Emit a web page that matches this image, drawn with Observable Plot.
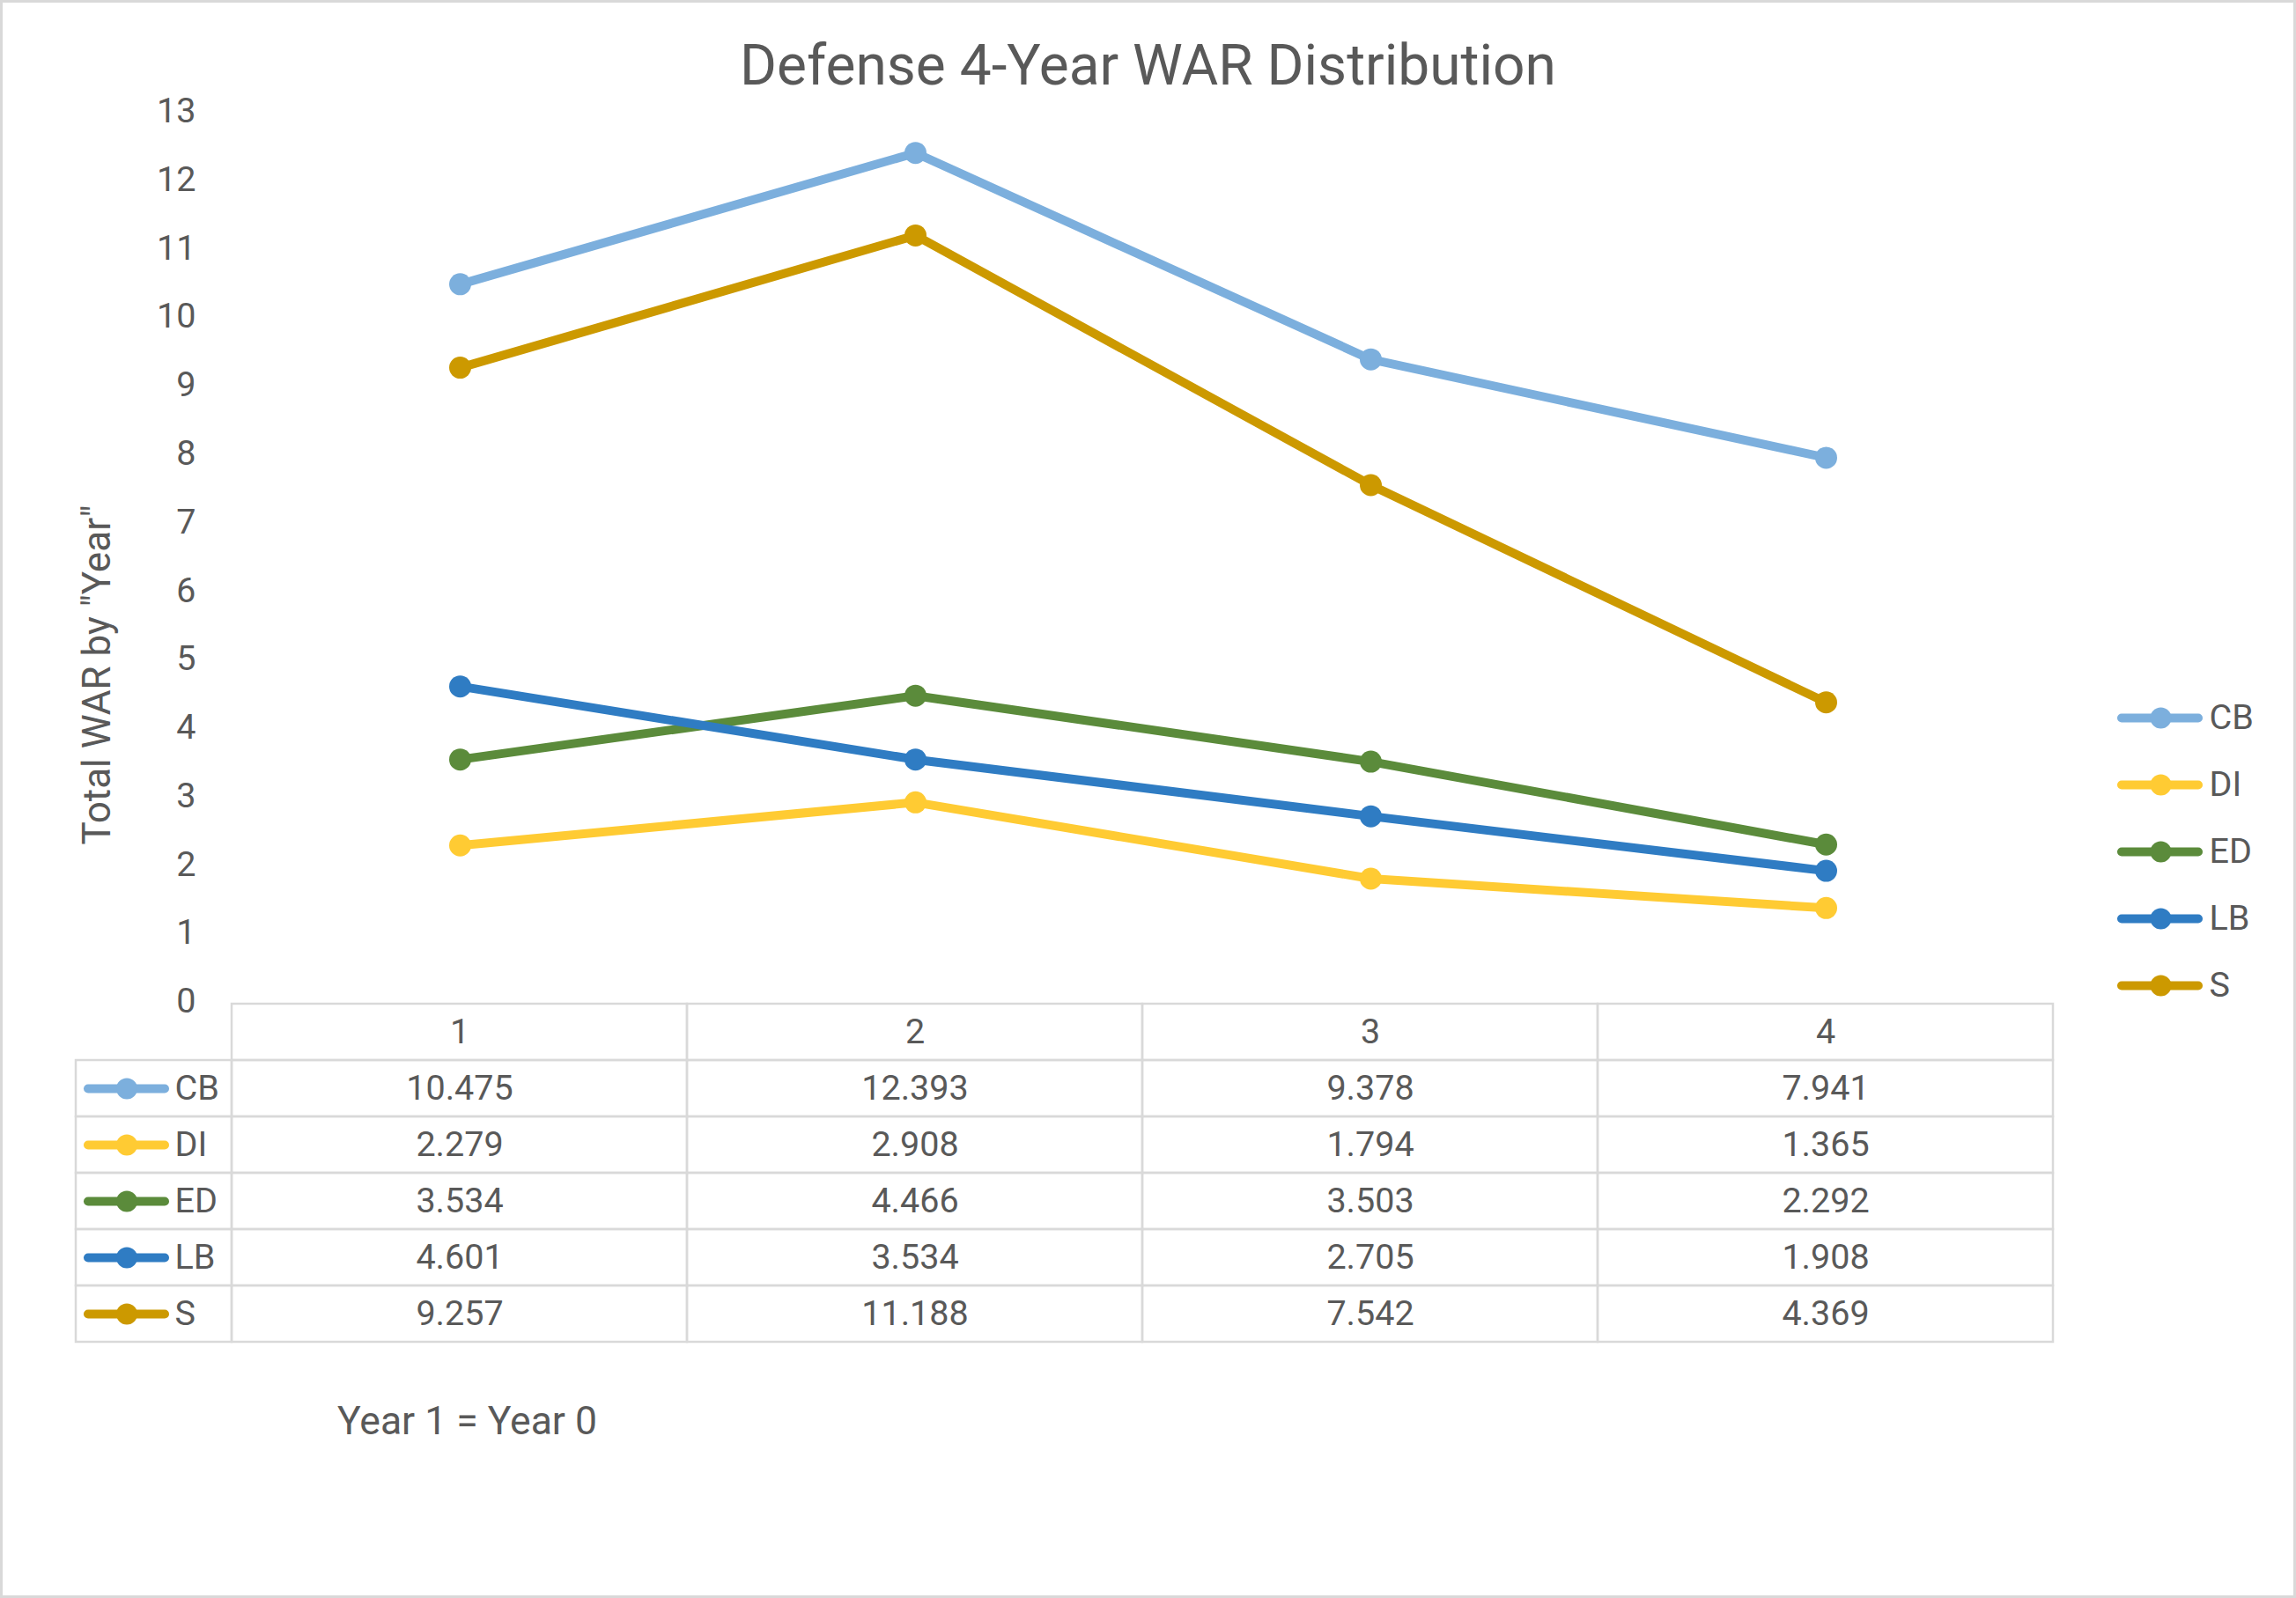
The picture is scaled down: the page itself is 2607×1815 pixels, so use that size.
<!DOCTYPE html>
<html>
<head>
<meta charset="utf-8">
<script src="https://cdn.jsdelivr.net/npm/d3@7"></script>
<script src="https://cdn.jsdelivr.net/npm/@observablehq/plot@0.6"></script>
<style>
  html, body { margin: 0; padding: 0; background: #fff; }
  #frame { position: relative; width: 2607px; height: 1815px; background: #fff; overflow: hidden;
           font-family: Roboto, "Open Sans", sans-serif; color: #595959; }
  #border { position: absolute; left: 0; top: 0; width: 2607px; height: 1815px; box-sizing: border-box;
            border: 3px solid #d9d9d9; pointer-events: none; }
  #title { position: absolute; left: 0; top: 43px; width: 2607px; text-align: center;
           font-size: 64px; line-height: 64px; white-space: nowrap; }
  #note { position: absolute; left: 383px; top: 1592px; font-size: 44.5px; line-height: 44.5px; white-space: nowrap; }
  svg.abs { position: absolute; max-width: none !important; }
</style>
</head>
<body>
<div id="frame">
  <div id="title"></div>
  <div id="note"></div>
  <div id="border"></div>
</div>
<script>
// ---- data ----
const chartTitle = "Defense 4-Year WAR Distribution";
const yAxisTitle = "Total WAR by \"Year\"";
const noteText = "Year 1 = Year 0";
const years = [1, 2, 3, 4];
const positions = ["CB", "DI", "ED", "LB", "S"];
const CB = [10.475, 12.393, 9.378, 7.941];
const DI = [2.279, 2.908, 1.794, 1.365];
const ED = [3.534, 4.466, 3.503, 2.292];
const LB = [4.601, 3.534, 2.705, 1.908];
const S  = [9.257, 11.188, 7.542, 4.369];
const seriesColors = ["#7CAFDD", "#FFCB33", "#5B8B3B", "#2F7CC3", "#CC9900"];
const yTicks = [0, 1, 2, 3, 4, 5, 6, 7, 8, 9, 10, 11, 12, 13];

// ---- derived table ----
const seriesValues = [CB, DI, ED, LB, S];
const rows = positions.flatMap((pos, i) => years.map((year, j) => ({pos, year, war: seriesValues[i][j]})));
const headerKey = "header";
const rowKeys = [headerKey, ...positions];
const colorScale = {domain: positions, range: seriesColors};

const textColor = "#595959";
const gridColor = "#d9d9d9";
const baseStyle = {fontFamily: "Roboto, 'Open Sans', sans-serif", fontSize: "39.5px", color: textColor, background: "transparent", overflow: "visible"};

document.getElementById("title").textContent = chartTitle;
document.getElementById("note").textContent = noteText;
const frame = document.getElementById("frame");

function place(svg, left, top) {
  svg.classList.add("abs");
  svg.style.left = left + "px";
  svg.style.top = top + "px";
  frame.insertBefore(svg, document.getElementById("border"));
}

// ---- main line chart ----
const W = 2607, mL = 263, mR = 276, mainH = 1140, mT = 126, mB = 3;
const main = Plot.plot({
  width: W, height: mainH,
  marginLeft: mL, marginRight: mR, marginTop: mT, marginBottom: mB,
  style: baseStyle,
  x: {type: "point", domain: years, padding: 0.5, axis: null},
  y: {domain: [0, 13], ticks: yTicks, tickSize: 0, tickPadding: 41, label: null},
  color: colorScale,
  marks: [
    Plot.line(rows, {x: "year", y: "war", stroke: "pos", z: "pos", strokeWidth: 10, strokeLinejoin: "round", strokeLinecap: "round"}),
    Plot.dot(rows, {x: "year", y: "war", fill: "pos", r: 12.5}),
    Plot.text([yAxisTitle], {frameAnchor: "left", rotate: -90, textAnchor: "middle",
      dx: 110 - mL, dy: 766 - (mT + mainH - mB) / 2, fontSize: 44, fill: textColor})
  ]
});
place(main, 0, 0);

// ---- data table (values) ----
const tTop = 1100, tH = 430, tMT = 38, tMB = 4.5;
const headerCells = years.map(year => ({year, row: headerKey}));
const bodyCells = rows.map(d => ({year: d.year, row: d.pos}));
const table = Plot.plot({
  width: W, height: tH,
  marginLeft: mL, marginRight: mR, marginTop: tMT, marginBottom: tMB,
  style: baseStyle,
  x: {type: "band", domain: years, padding: 0, axis: null},
  y: {type: "band", domain: rowKeys, padding: 0, axis: null},
  marks: [
    Plot.cell([...headerCells, ...bodyCells], {x: "year", y: "row", fill: "none", stroke: gridColor, strokeWidth: 2.5}),
    Plot.text(headerCells, {x: "year", y: "row", text: d => String(d.year), fill: textColor, fontSize: 39.5}),
    Plot.text(rows, {x: "year", y: "pos", text: d => d.war.toFixed(3), fill: textColor, fontSize: 39.5})
  ]
});
place(table, 0, tTop);

// ---- data table (series key column) ----
const keyLeft = 86;
const keyBandCenter = (keyLeft + mL) / 2;
const keyCol = Plot.plot({
  width: mL, height: tH,
  marginLeft: keyLeft, marginRight: 0, marginTop: tMT, marginBottom: tMB,
  style: baseStyle,
  x: {type: "band", domain: ["key"], padding: 0, axis: null},
  y: {type: "band", domain: rowKeys, padding: 0, axis: null},
  color: colorScale,
  marks: [
    Plot.cell(positions, {x: () => "key", y: d => d, fill: "none", stroke: gridColor, strokeWidth: 2.5}),
    Plot.tickY(positions, {x: () => "key", y: d => d, stroke: d => d, strokeWidth: 10, strokeLinecap: "round",
      insetLeft: 14, insetRight: 76}),
    Plot.dot(positions, {x: () => "key", y: d => d, fill: d => d, r: 12, dx: 143.5 - keyBandCenter}),
    Plot.text(positions, {x: () => "key", y: d => d, text: d => d, textAnchor: "start",
      dx: 198 - keyBandCenter, fill: textColor, fontSize: 39.5})
  ]
});
place(keyCol, 0, tTop);

// ---- legend (right) ----
const lgLeft = 2399, lgTop = 770, lgW = 208, lgH = 400;
const legend = Plot.plot({
  width: lgW, height: lgH,
  marginLeft: 0, marginRight: lgW - 108, marginTop: 814 - lgTop, marginBottom: lgH - (1119 - lgTop),
  style: baseStyle,
  x: {domain: [0, 1], axis: null},
  y: {type: "point", domain: positions, padding: 0, axis: null},
  color: colorScale,
  marks: [
    Plot.tickY(positions, {y: d => d, stroke: d => d, strokeWidth: 10, strokeLinecap: "round", insetLeft: 10, insetRight: 11}),
    Plot.dot(positions, {y: d => d, fill: d => d, r: 12, frameAnchor: "middle"}),
    Plot.text(positions, {y: d => d, text: d => d, frameAnchor: "right", textAnchor: "start", dx: 1,
      fill: textColor, fontSize: 39.5})
  ]
});
place(legend, lgLeft, lgTop);
</script>
</body>
</html>
